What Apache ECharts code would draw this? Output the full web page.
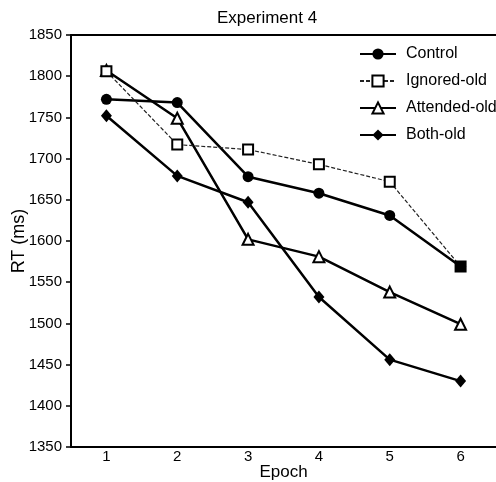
<!DOCTYPE html>
<html>
<head>
<meta charset="utf-8">
<script src="https://cdn.jsdelivr.net/npm/echarts@6/dist/echarts.min.js"></script>
<style>
  html, body { margin: 0; padding: 0; background: #fff; }
  #chart { width: 496px; height: 482px; }
</style>
</head>
<body>
<div id="chart"></div>
<script>
const epochs = ['1', '2', '3', '4', '5', '6'];
const control = [1772, 1768, 1678, 1658, 1631, 1569];
const ignoredOld = [1806, 1717, 1711, 1693, 1672, 1569];
const attendedOld = [1807, 1749, 1602, 1581, 1538, 1499];
const bothOld = [1752, 1679, 1647, 1532, 1456, 1430];

const FONT = '"Liberation Sans", Arial, Helvetica, sans-serif';
const chart = echarts.init(document.getElementById('chart'), null, { renderer: 'canvas' });

const ignoredData = ignoredOld.map((v, i) =>
  i === ignoredOld.length - 1 ? { value: v, itemStyle: { color: '#000' } } : v);

chart.setOption({
  animation: false,
  backgroundColor: '#fff',
  textStyle: { fontFamily: FONT, color: '#000' },
  title: {
    text: 'Experiment 4',
    left: 212, top: 5,
    textStyle: { fontFamily: FONT, fontSize: 17, fontWeight: 'normal', color: '#000' }
  },
  legend: {
    orient: 'vertical',
    left: 354, top: 41,
    itemWidth: 36, itemHeight: 14, itemGap: 11,
    textStyle: { fontFamily: FONT, fontSize: 16, color: '#000', padding: [0, 0, 0, 5] },
    data: ['Control', 'Ignored-old', 'Attended-old', 'Both-old']
  },
  grid: { left: 71, right: 0, top: 35, bottom: 35, containLabel: false, outerBoundsMode: 'none' },
  xAxis: [{
    type: 'category',
    data: epochs,
    boundaryGap: true,
    name: 'Epoch',
    nameLocation: 'middle',
    nameGap: 17,
    nameMoveOverlap: false,
    nameTextStyle: { fontFamily: FONT, fontSize: 17, color: '#000' },
    axisLine: { lineStyle: { color: '#000', width: 2 } },
    axisTick: { alignWithLabel: true, length: 4, lineStyle: { color: '#000', width: 1.5 } },
    axisLabel: { fontFamily: FONT, fontSize: 15, color: '#000', margin: 2 },
    splitLine: { show: false }
  }, {
    type: 'category',
    data: epochs,
    position: 'top',
    axisLine: { lineStyle: { color: '#000', width: 2 } },
    axisTick: { show: false },
    axisLabel: { show: false },
    splitLine: { show: false }
  }],
  yAxis: {
    type: 'value',
    min: 1350, max: 1850, interval: 50,
    name: 'RT (ms)',
    nameLocation: 'middle',
    nameGap: 43,
    nameMoveOverlap: false,
    nameTextStyle: { fontFamily: FONT, fontSize: 18, color: '#000' },
    axisLine: { show: true, lineStyle: { color: '#000', width: 2 } },
    axisTick: { show: true, length: 5, lineStyle: { color: '#000', width: 1.5 } },
    axisLabel: { fontFamily: FONT, fontSize: 15, color: '#000', margin: 9, formatter: v => String(v) },
    splitLine: { show: false }
  },
  series: [{
    name: 'Control', type: 'line', data: control, z: 2,
    symbol: 'circle', symbolSize: 11,
    lineStyle: { color: '#000', width: 2.5 },
    itemStyle: { color: '#000', borderColor: '#000', borderWidth: 0 }
  }, {
    name: 'Ignored-old', type: 'line', data: ignoredData, z: 4,
    symbol: 'rect', symbolSize: 10,
    lineStyle: { color: '#222', width: 1.2, type: [4, 2] },
    itemStyle: { color: '#fff', borderColor: '#000', borderWidth: 2 }
  }, {
    name: 'Attended-old', type: 'line', data: attendedOld, z: 3,
    symbol: 'triangle', symbolSize: 11,
    lineStyle: { color: '#000', width: 2.5 },
    itemStyle: { color: '#fff', borderColor: '#000', borderWidth: 2 }
  }, {
    name: 'Both-old', type: 'line', data: bothOld, z: 2,
    symbol: 'diamond', symbolSize: [11, 13],
    lineStyle: { color: '#000', width: 2.5 },
    itemStyle: { color: '#000', borderWidth: 0 }
  }]
});
</script>
</body>
</html>
